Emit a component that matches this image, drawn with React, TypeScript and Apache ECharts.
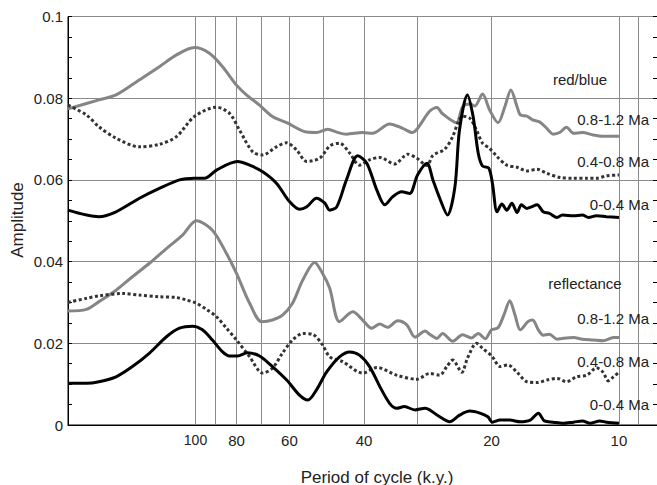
import React, { useEffect, useRef } from "react";
import * as echarts from "echarts";

// Period of cycle (k.y.) -> amplitude
const rbOld = [
  [200, 0.0774], [169, 0.0796], [154, 0.0808], [135.6, 0.0845], [121.7, 0.0877], [110.9, 0.0906],
  [100.6, 0.0924], [92.7, 0.091], [86.3, 0.0877], [80, 0.0832], [75.8, 0.0808], [70.6, 0.0783],
  [65.8, 0.0755], [60.9, 0.074], [54.6, 0.0717], [51.8, 0.0716], [48.7, 0.0724], [46.4, 0.0717],
  [44, 0.0712], [40.3, 0.0716], [38.2, 0.0714], [34.8, 0.0737], [32.4, 0.0726], [30.8, 0.0716],
  [29.9, 0.0726], [28, 0.0768], [26.9, 0.0777], [26.1, 0.0762], [24.2, 0.074], [23.4, 0.0779],
  [22.5, 0.0786], [21.9, 0.0781], [21, 0.081], [20.2, 0.0771], [19.3, 0.074], [18.6, 0.0779],
  [18, 0.082], [17.4, 0.0779], [17.1, 0.0759], [16.5, 0.0756], [16, 0.0747], [15.4, 0.0742],
  [14.8, 0.0726], [14.3, 0.0712], [13.8, 0.0716], [13.3, 0.0729], [12.8, 0.0714], [12.2, 0.0716],
  [11.5, 0.071], [10.9, 0.0707], [10, 0.0707],
];
const rbMid = [
  [200, 0.0783], [181, 0.0759], [169, 0.073], [154, 0.0702], [135.6, 0.0681], [121.7, 0.0687],
  [110.9, 0.0706], [100.6, 0.0755], [89.2, 0.0778], [83.1, 0.0763], [78.7, 0.0722], [73.3, 0.0669],
  [69.4, 0.0661], [64.4, 0.0681], [60.9, 0.0691], [57.7, 0.0673], [54.6, 0.0645], [50.9, 0.0653],
  [48.2, 0.0683], [45.7, 0.069], [43.2, 0.0665], [41, 0.0636], [38.8, 0.0649], [36.7, 0.0655],
  [33.9, 0.0639], [31.5, 0.0663], [30, 0.0653], [28.4, 0.0635], [27.5, 0.066], [25.8, 0.0675],
  [24.7, 0.0706], [24, 0.074], [23.4, 0.0756], [22.5, 0.0751], [21.7, 0.0722], [21, 0.069],
  [20.2, 0.0677], [19.4, 0.0657], [18.4, 0.0636], [17.4, 0.0631], [16.5, 0.0622], [15.6, 0.0626],
  [14.8, 0.0616], [13.8, 0.0606], [12.8, 0.0604], [11.9, 0.0604], [11.3, 0.0604], [10.7, 0.061],
  [10, 0.0612],
];
const rbYoung = [
  [200, 0.0526], [169, 0.051], [154, 0.0522], [135.6, 0.0555], [121.7, 0.0579], [109.1, 0.06],
  [100.6, 0.0604], [95.2, 0.0604], [89.2, 0.0624], [79.6, 0.0645], [74.5, 0.0636], [69.4, 0.062],
  [64.4, 0.0592], [60, 0.0547], [56.8, 0.0528], [54.6, 0.0534], [51.8, 0.0555], [49.5, 0.0543],
  [48.2, 0.0526], [46.4, 0.0534], [44, 0.06], [41.4, 0.0659], [39.4, 0.0641], [37.3, 0.0575],
  [35.7, 0.0539], [34.2, 0.0559], [32.6, 0.0571], [31.2, 0.0567], [29.9, 0.0612], [28.4, 0.0641],
  [27.5, 0.06], [26.5, 0.0555], [25.4, 0.0514], [24.4, 0.0583], [23.8, 0.0722], [22.8, 0.0808],
  [22.1, 0.0755], [21.5, 0.0666], [21, 0.0634], [20.3, 0.0629], [19.9, 0.0592], [19.4, 0.0522],
  [18.9, 0.0541], [18.4, 0.0526], [17.9, 0.0543], [17.4, 0.052], [17, 0.0539], [16.5, 0.053],
  [16.1, 0.0534], [15.6, 0.0539], [15.1, 0.0522], [14.6, 0.0518], [14, 0.0508], [13.6, 0.0514],
  [12.8, 0.0512], [12.2, 0.0514], [11.8, 0.0508], [11.3, 0.0512], [10.7, 0.051], [10, 0.0508],
];
const rfOld = [
  [200, 0.0279], [181, 0.0283], [169, 0.0302], [154, 0.033], [140.9, 0.0363], [128.4, 0.0396],
  [117.1, 0.0432], [107.3, 0.0465], [99.5, 0.05], [91.2, 0.0477], [84.5, 0.042], [80, 0.0371],
  [74.5, 0.0298], [69.8, 0.0253], [65.8, 0.0257], [62.3, 0.0269], [59, 0.0298], [55.8, 0.0355],
  [52.3, 0.0398], [50.1, 0.0371], [48.2, 0.0335], [45.7, 0.0253], [42.5, 0.0277], [40.3, 0.0257],
  [38.4, 0.0237], [36.7, 0.0247], [35.2, 0.0239], [33.3, 0.0255], [31.7, 0.0245], [30.3, 0.0215],
  [28.7, 0.023], [28, 0.0222], [26.9, 0.0212], [26.1, 0.0224], [24.7, 0.0205], [23.4, 0.0221],
  [22.3, 0.0213], [21.5, 0.0224], [20.7, 0.0211], [20, 0.0233], [19.3, 0.0238], [18.7, 0.0269],
  [18.1, 0.0304], [17.6, 0.0269], [17.1, 0.0233], [16.4, 0.0253], [16, 0.0257], [15.5, 0.0233],
  [15.1, 0.022], [14.6, 0.0222], [14, 0.021], [13.6, 0.0212], [12.8, 0.0214], [12.2, 0.021],
  [11.5, 0.0208], [10.9, 0.0206], [10.3, 0.0214], [10, 0.0214],
];
const rfMid = [
  [200, 0.03], [181, 0.031], [169, 0.0316], [148.8, 0.0322], [135.6, 0.0318], [121.7, 0.0314],
  [110.9, 0.0312], [105, 0.0306], [99.5, 0.0298], [94.2, 0.0283], [89.2, 0.0265], [84.5, 0.0237],
  [80, 0.0208], [74.5, 0.0167], [69.4, 0.0127], [65.8, 0.0139], [62.3, 0.0176], [59, 0.0208],
  [55.8, 0.0224], [52.9, 0.0222], [50.1, 0.0196], [48.2, 0.0167], [44.9, 0.0155], [40.3, 0.0127],
  [37.3, 0.0141], [33.5, 0.0122], [30, 0.0112], [28, 0.0126], [26.5, 0.0122], [25.5, 0.0143],
  [24.7, 0.0159], [23.5, 0.0129], [22.8, 0.0163], [21.7, 0.02], [21, 0.0188], [19.9, 0.0167],
  [19.1, 0.0143], [18.3, 0.0147], [17.4, 0.0129], [16.5, 0.0106], [15.6, 0.0104], [14.8, 0.011],
  [14, 0.0114], [13.3, 0.0106], [12.6, 0.0118], [11.9, 0.0122], [11.3, 0.014], [10.9, 0.0129],
  [10.6, 0.0108], [10.3, 0.0118], [10, 0.0129],
];
const rfYoung = [
  [200, 0.0102], [181, 0.0102], [169, 0.0106], [154, 0.0118], [140.9, 0.0143], [128.4, 0.0176],
  [117.1, 0.0216], [109.1, 0.0237], [101.6, 0.0242], [96.3, 0.0233], [91.2, 0.0208], [86.3, 0.0179],
  [83.1, 0.0169], [79.6, 0.0169], [75.4, 0.0177], [70.6, 0.0169], [65.8, 0.0143], [60.9, 0.011],
  [56.8, 0.0073], [54.3, 0.0061], [51.8, 0.0086], [49, 0.013], [45.7, 0.0167], [43.2, 0.0179],
  [41, 0.0171], [38.8, 0.0143], [36.7, 0.0094], [34.8, 0.0053], [33.5, 0.0041], [32.1, 0.0045],
  [30.3, 0.0037], [28.7, 0.0041], [28, 0.0037], [26.5, 0.002], [25.1, 0.0008], [23.8, 0.0024],
  [22.5, 0.0034], [21.3, 0.0029], [20.4, 0.002], [19.9, 0.0007], [19.1, 0.0012], [18.1, 0.0012],
  [17.1, 0.0008], [16.2, 0.0012], [15.5, 0.0029], [15, 0.001], [14.3, 0.0007], [13.6, 0.0004],
  [12.8, 0.0007], [12.2, 0.001], [11.7, 0.0004], [11.1, 0.001], [10.7, 0.0007], [10, 0.0004],
];

// vertical grid lines (periods) and their tick labels
const periodGrid = [100, 90, 80, 70, 60, 50, 40, 30, 20, 10, 9];
const periodLabels = ["100", "", "80", "", "60", "", "40", "", "20", "10", ""];

const groupNames = ["red/blue", "reflectance"];
const rangeNames = ["0.8-1.2 Ma", "0.4-0.8 Ma", "0-0.4 Ma"];

const FONT = '"Liberation Sans", Arial, Helvetica, sans-serif';
const GRAY = "#858585";
const DARK = "#333333";

export default function App() {
  const ref = useRef<HTMLDivElement>(null);

  useEffect(() => {
    if (!ref.current) return;
    const chart = echarts.init(ref.current, null, { renderer: "svg" });

    const styles = [
      { color: GRAY, type: "solid" as any },
      { color: DARK, type: [3, 2.5] as any },
      { color: "#000000", type: "solid" as any },
    ];
    const sets = [
      [rbOld, rbMid, rbYoung],
      [rfOld, rfMid, rfYoung],
    ];

    const series: any[] = [];
    sets.forEach((group, gi) => {
      group.forEach((data, si) => {
        series.push({
          type: "line",
          name: groupNames[gi] + " " + rangeNames[si],
          data,
          smooth: 0.3,
          symbol: "none",
          showSymbol: false,
          clip: false,
          z: 3 + si,
          lineStyle: { color: styles[si].color, width: 3, type: styles[si].type },
          emphasis: { disabled: true },
        });
      });
    });

    series[0].markLine = {
      silent: true,
      z: 1,
      symbol: ["none", "none"],
      animation: false,
      lineStyle: { color: "#8a8a8a", width: 1, type: "solid" },
      label: {
        position: "start",
        distance: 8,
        color: "#222",
        fontSize: 15,
        fontFamily: FONT,
      },
      emphasis: { disabled: true },
      data: periodGrid.map((p, i) => ({
        xAxis: p,
        label: periodLabels[i]
          ? { show: true, formatter: periodLabels[i], fontSize: p === 100 ? 14 : 15 }
          : { show: false },
      })),
    };

    const labelText = (text: string, x: number, y: number, align: string, size = 15) => ({
      type: "text",
      x,
      y,
      z: 10,
      style: {
        text,
        font: `${size}px ${FONT}`,
        fill: "#222",
        textAlign: align,
        align,
        textVerticalAlign: "middle",
        verticalAlign: "middle",
      },
    });

    const graphic: any[] = [
      {
        type: "text",
        x: 17,
        y: 220,
        rotation: Math.PI / 2,
        style: {
          text: "Amplitude",
          font: `17px ${FONT}`,
          fill: "#222",
          textAlign: "center",
          align: "center",
          textVerticalAlign: "middle",
          verticalAlign: "middle",
        },
      },
      labelText("Period of cycle (k.y.)", 377, 477, "center", 17),
      labelText(groupNames[0], 580, 79, "center"),
      labelText(rangeNames[0], 649, 119, "right"),
      labelText(rangeNames[1], 649, 161, "right"),
      labelText(rangeNames[2], 649, 204, "right"),
      labelText(groupNames[1], 585, 283, "center"),
      labelText(rangeNames[0], 649, 318, "right"),
      labelText(rangeNames[1], 649, 361, "right"),
      labelText(rangeNames[2], 649, 404, "right"),
    ];

    chart.setOption({
      animation: false,
      backgroundColor: "#ffffff",
      grid: {
        left: 68,
        right: -3,
        top: 16.5,
        bottom: 60,
        show: true,
        borderColor: "#000",
        borderWidth: 1,
        containLabel: false,
        outerBoundsMode: "none",
      },
      xAxis: {
        type: "log",
        logBase: 10,
        inverse: true,
        min: 8,
        max: 200,
        axisLine: { show: true, onZero: false, lineStyle: { color: "#000", width: 1 } },
        axisTick: { show: false },
        minorTick: { show: false },
        axisLabel: { show: false },
        splitLine: { show: false },
        minorSplitLine: { show: false },
      },
      yAxis: [
        {
          type: "value",
          min: 0,
          max: 0.1,
          interval: 0.02,
          axisLine: { show: true, lineStyle: { color: "#000", width: 1 } },
          axisTick: { show: true, inside: true, length: 4, lineStyle: { color: "#000" } },
          minorTick: { show: true, splitNumber: 4, length: 4, lineStyle: { color: "#000" } },
          axisLabel: { margin: 5, fontSize: 15, color: "#222", fontFamily: FONT },
          splitLine: { show: true, lineStyle: { color: "#8a8a8a", width: 1 } },
        },
        {
          type: "value",
          position: "right",
          min: 0,
          max: 0.1,
          interval: 0.02,
          axisLine: { show: true, lineStyle: { color: "#000", width: 1 } },
          axisTick: { show: true, inside: true, length: 7, lineStyle: { color: "#000" } },
          minorTick: { show: true, splitNumber: 4, length: 7, lineStyle: { color: "#000" } },
          axisLabel: { show: false },
          splitLine: { show: false },
        },
      ],
      graphic,
      series,
    });

    return () => {
      chart.dispose();
    };
  }, []);

  return (
    <div
      ref={ref}
      style={{ position: "absolute", left: 0, top: 0, width: 657, height: 485 }}
    />
  );
}
